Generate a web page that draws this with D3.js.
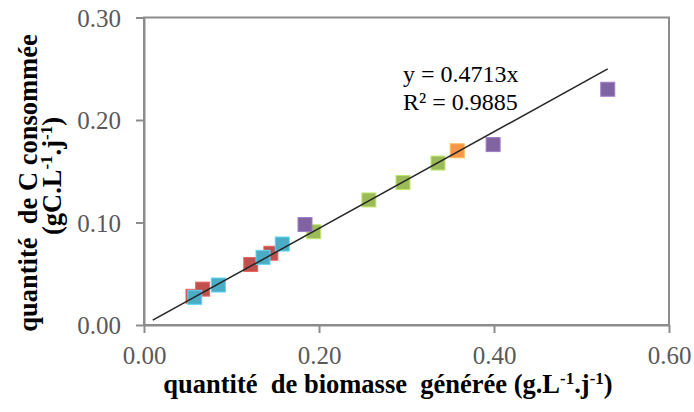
<!DOCTYPE html>
<html>
<head>
<meta charset="utf-8">
<script src="https://cdn.jsdelivr.net/npm/d3@7"></script>
<style>
  html, body { margin: 0; padding: 0; background: #fff; }
  svg { display: block; }
  .tick-label { font-family: "Liberation Serif", "Times New Roman", serif; font-size: 25px; fill: #595959; }
  .axis-title { font-family: "Liberation Serif", "Times New Roman", serif; font-size: 26.5px; font-weight: bold; fill: #000; white-space: pre; }
  .eq { font-family: "Liberation Serif", "Times New Roman", serif; font-size: 24px; fill: #000; }
</style>
</head>
<body>
<div id="chart"></div>
<script>
// Points, one array pair per colour series.
const redX = [0.056, 0.067, 0.122, 0.145];
const redY = [0.028, 0.035, 0.059, 0.070];
const blueX = [0.058, 0.085, 0.136, 0.158];
const blueY = [0.027, 0.039, 0.066, 0.079];
const greenX = [0.194, 0.257, 0.296, 0.336];
const greenY = [0.091, 0.122, 0.139, 0.158];
const purpleX = [0.184, 0.399, 0.530];
const purpleY = [0.098, 0.176, 0.230];
const orangeX = [0.358];
const orangeY = [0.170];

const xTicks = [0, 0.2, 0.4, 0.6];
const yTicks = [0, 0.1, 0.2, 0.3];
const slope = 0.4713;
const trendX = [0.01, 0.53];

const series = [
  { color: '#c0504d', xs: redX, ys: redY },
  { color: '#4bacc6', xs: blueX, ys: blueY },
  { color: '#9bbb59', xs: greenX, ys: greenY },
  { color: '#8064a2', xs: purpleX, ys: purpleY },
  { color: '#f79646', xs: orangeX, ys: orangeY },
];

const width = 694, height = 412;
const margin = { top: 17.5, right: 25, bottom: 87, left: 144 };
const innerW = width - margin.left - margin.right;
const innerH = height - margin.top - margin.bottom;

const svg = d3.select('#chart').append('svg')
  .attr('width', width).attr('height', height)
  .attr('viewBox', `0 0 ${width} ${height}`);
const g = svg.append('g').attr('transform', `translate(${margin.left},${margin.top})`);

const x = d3.scaleLinear().domain([0, 0.6]).range([0, innerW]);
const y = d3.scaleLinear().domain([0, 0.3]).range([innerH, 0]);
const axisColor = '#8c8c8c';

// plot area frame (top and right)
g.append('rect').attr('width', innerW).attr('height', innerH)
  .attr('fill', 'none').attr('stroke', axisColor).attr('stroke-width', 2);

const xa = g.append('g').attr('transform', `translate(0,${innerH})`)
  .call(d3.axisBottom(x).tickValues(xTicks).tickSize(8).tickSizeOuter(0).tickFormat(d3.format('.2f')));
const ya = g.append('g')
  .call(d3.axisLeft(y).tickValues(yTicks).tickSize(8).tickSizeOuter(0).tickFormat(d3.format('.2f')));
[xa, ya].forEach((a) => {
  a.select('.domain').attr('stroke', axisColor).attr('stroke-width', 2);
  a.selectAll('.tick line').attr('stroke', axisColor).attr('stroke-width', 2);
  a.selectAll('.tick text').attr('class', 'tick-label').attr('font-size', null).attr('font-family', null).attr('fill', null);
});
xa.selectAll('.tick text').attr('y', 21).attr('dy', '0.71em');
ya.selectAll('.tick text').attr('x', -23).attr('dy', '0.35em');

const size = 14;
series.forEach((s) => {
  g.append('g').selectAll('rect').data(s.xs.map((v, i) => [v, s.ys[i]])).join('rect')
    .attr('x', (d) => x(d[0]) - size / 2)
    .attr('y', (d) => y(d[1]) - size / 2)
    .attr('width', size).attr('height', size)
    .attr('fill', s.color)
    .attr('stroke', d3.color(s.color).brighter(0.6)).attr('stroke-width', 1);
});

g.append('line')
  .attr('x1', x(trendX[0])).attr('y1', y(slope * trendX[0]))
  .attr('x2', x(trendX[1])).attr('y2', y(slope * trendX[1]))
  .attr('stroke', '#262626').attr('stroke-width', 1.5);

svg.append('text').attr('class', 'eq').attr('x', 403).attr('y', 82).text('y = 0.4713x');
svg.append('text').attr('class', 'eq').attr('x', 403).attr('y', 110).text('R² = 0.9885');

// superscript helper for "-1" exponents
function withSup(sel, parts) {
  parts.forEach((p) => {
    if (p.sup) sel.append('tspan').attr('dy', -9).attr('font-size', 17).text(p.t);
    else sel.append('tspan').attr('dy', p.after ? 9 : 0).text(p.t);
  });
}

const xt = svg.append('text').attr('class', 'axis-title').attr('x', 388).attr('y', 393).attr('text-anchor', 'middle');
withSup(xt, [
  { t: 'quantité  de biomasse  générée (g.L' }, { t: '-1', sup: true },
  { t: '.j', after: true }, { t: '-1', sup: true }, { t: ')', after: true },
]);

const yt = svg.append('g').attr('transform', 'translate(0,0) rotate(-90)');
yt.append('text').attr('class', 'axis-title').attr('x', -183).attr('y', 37)
  .attr('text-anchor', 'middle').text('quantité  de C consommée');
const yt2 = yt.append('text').attr('class', 'axis-title').attr('x', -176).attr('y', 61).attr('text-anchor', 'middle');
withSup(yt2, [
  { t: '(gC.L' }, { t: '-1', sup: true },
  { t: '.j', after: true }, { t: '-1', sup: true }, { t: ')', after: true },
]);
</script>
</body>
</html>
